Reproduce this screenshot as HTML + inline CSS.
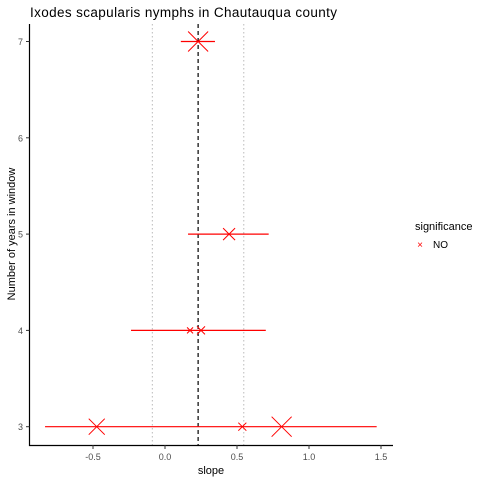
<!DOCTYPE html>
<html><head><meta charset="utf-8"><style>
body{margin:0;background:#fff;font-family:"Liberation Sans",Arial,sans-serif}
svg text{font-family:"Liberation Sans",Arial,sans-serif}
</style></head><body>
<svg id="chart" width="480" height="480" xmlns="http://www.w3.org/2000/svg">
<text x="30" y="17" font-size="13.5" fill="#000" textLength="307">Ixodes scapularis nymphs in Chautauqua county</text>
<g id="plot"></g>
<text x="211" y="474" font-size="11" text-anchor="middle">slope</text>
<text transform="translate(15,234) rotate(-90)" font-size="11" text-anchor="middle">Number of years in window</text>
<g>
<text x="415" y="230" font-size="11">significance</text>
<text x="420" y="248" font-size="10" fill="#ff0000" text-anchor="middle">×</text>
<text x="433" y="248" font-size="10">NO</text>
</g>
</svg>
<script>
const years=[7,5,4,3];
const lows=[0.11,0.16,-0.236,-0.833];
const highs=[0.347,0.72,0.70,1.47];
const pointYears=[7,5,4,4,3,3,3];
const pointSlopes=[0.23,0.445,0.174,0.25,-0.474,0.537,0.81];
const pointSizes=[10,6,3,4,8,4,10];
const xTicks=[-0.5,0,0.5,1.0,1.5];
const xTickLabels=["-0.5","0.0","0.5","1.0","1.5"];
const yTicks=[3,4,5,6,7];
const meanSlope=0.23;
const ciLow=-0.088, ciHigh=0.547;
const NS="http://www.w3.org/2000/svg";
const g=document.getElementById('plot');
const X=v=>165+144*v;
const Y=v=>426.7-96.3*(v-3);
function mk(t,a){const e=document.createElementNS(NS,t);for(const k in a)e.setAttribute(k,a[k]);g.appendChild(e);return e;}
[ciLow,ciHigh].forEach(v=>{
 const e=mk('line',{x1:X(v),x2:X(v),y1:24,y2:445,stroke:'#bbb','stroke-dasharray':'1.5,2.5','stroke-width':1});
 
 
});
const m=mk('line',{x1:X(meanSlope),x2:X(meanSlope),y1:24,y2:445,stroke:'#000','stroke-dasharray':'4,3','stroke-width':1.2});


years.forEach((y,i)=>{
 const e=mk('line',{x1:X(lows[i]),x2:X(highs[i]),y1:Y(y),y2:Y(y),stroke:'#ff0000','stroke-width':1.2});
 
 
});
pointYears.forEach((y,i)=>{
 const cx=X(pointSlopes[i]),cy=Y(y),s=pointSizes[i];
 const e=mk('path',{d:`M${cx-s},${cy-s}L${cx+s},${cy+s}M${cx-s},${cy+s}L${cx+s},${cy-s}`,stroke:'#ff0000','stroke-width':1});
 
 
});
const ax=mk('path',{d:'M29.5,24V445.5H393',stroke:'#000',fill:'none','stroke-width':1.2});


xTicks.forEach((v,i)=>{
 mk('line',{x1:X(v),x2:X(v),y1:445,y2:449,stroke:'#333'});
 const t=mk('text',{x:X(v),y:460,'font-size':9,'text-anchor':'middle',fill:'#4d4d4d'});
 t.textContent=xTickLabels[i];
 
 
});
yTicks.forEach(v=>{
 mk('line',{x1:26,x2:29.5,y1:Y(v),y2:Y(v),stroke:'#333'});
 const t=mk('text',{x:23,y:Y(v)+3.5,'font-size':9,'text-anchor':'end',fill:'#4d4d4d'});
 t.textContent=v;
 
 
});
</script>
</body></html>
